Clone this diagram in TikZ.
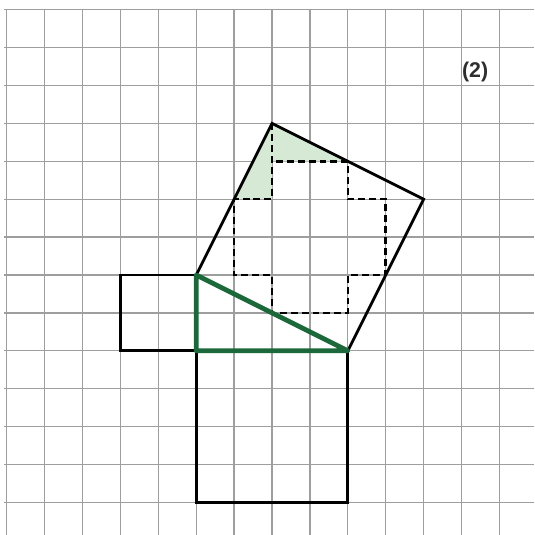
\documentclass[tikz,border=0pt]{standalone}
\usepackage{fontspec}
\setmainfont{Liberation Sans}
\begin{document}
\begin{tikzpicture}[x=1cm,y=1cm,
  gridline/.style={draw=black!38, line width=1pt},
  solidedge/.style={draw=black, line width=2.1pt, line join=miter},
  dashedge/.style={draw=black, line width=1.9pt, dash pattern=on 5.2pt off 3pt},
  greenedge/.style={line width=3.6pt, line join=round},
  shade/.style={fill={rgb,255:red,214;green,233;blue,212}},
  labeltext/.style={font=\bfseries\fontsize{16}{18}\selectfont, text=black!82}]
\useasboundingbox (-0.1768,0.256) rectangle (13.913,-13.86);
% grid
\foreach \i in {0,...,13} \draw[gridline] (\i,0) -- (\i,-13.86);
\foreach \j in {0,...,13} \draw[gridline] (-0.06,-\j) -- (13.913,-\j);
% key points
\coordinate (A) at (5,-7);
\coordinate (B) at (7,-3);
\coordinate (C) at (11,-5);
\coordinate (D) at (9,-9);
\coordinate (E) at (5,-9);
\coordinate (mAB) at (6,-5);
\coordinate (mBC) at (9,-4);
\coordinate (mCD) at (10,-7);
\coordinate (mDA) at (7,-8);
% shading
\fill[shade] (B) -- (mAB) -- (7,-5) -- cycle;
\fill[shade] (B) -- (mBC) -- (7,-4) -- cycle;
% dashed dissection
\draw[dashedge] (B) -- (7,-5) -- (mAB) -- (6,-7) -- (7,-7) -- (mDA) -- (9,-8) -- (9,-7) -- (mCD) -- (10,-5) -- (9,-5) -- (mBC) -- (7,-4);
% squares
\draw[solidedge] (3,-7) rectangle (E);
\draw[solidedge] (E) rectangle (9,-13);
\draw[solidedge] (A) -- (B) -- (C) -- (D) -- cycle;
% triangle
\draw[greenedge, draw={rgb,255:red,28;green,104;blue,58}] (A) -- (E) -- (D) -- cycle;
% label
\node[labeltext] (lab) at (12.36,-1.65) {(2)};
\end{tikzpicture}
\end{document}
